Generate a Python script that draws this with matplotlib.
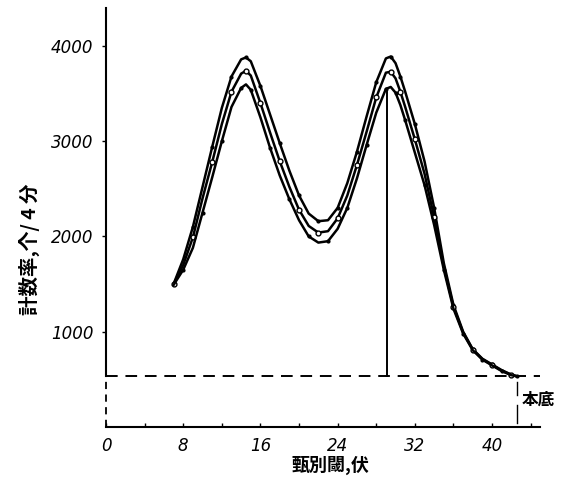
import matplotlib
matplotlib.use("Agg")
import matplotlib.pyplot as plt
from matplotlib.ticker import MultipleLocator

# discriminator threshold (V) and count rate (counts / 4 min), three runs
thresholds = [7, 8, 9, 10, 11, 12, 13, 14, 14.5, 15, 16, 17, 18, 19, 20, 21, 22, 23, 24, 25,
              26, 27, 28, 29, 29.5, 30, 30.5, 31, 32, 33, 34, 35, 36, 37, 38, 39, 40, 41, 42, 42.6]
rate_top = [1500, 1760, 2100, 2520, 2940, 3350, 3680, 3860, 3880, 3840, 3580, 3280, 2980, 2690,
            2430, 2240, 2160, 2170, 2300, 2560, 2890, 3260, 3620, 3870, 3890, 3820, 3680, 3520,
            3180, 2790, 2300, 1720, 1280, 1000, 815, 715, 655, 595, 548, 530]
rate_mid = [1500, 1700, 1990, 2400, 2780, 3180, 3520, 3710, 3740, 3690, 3400, 3090, 2790, 2520,
            2280, 2110, 2040, 2055, 2190, 2430, 2750, 3100, 3460, 3720, 3730, 3660, 3520, 3360,
            3020, 2660, 2200, 1680, 1260, 990, 810, 710, 650, 590, 545, 530]
rate_bot = [1490, 1650, 1880, 2250, 2620, 3000, 3360, 3560, 3597, 3540, 3250, 2930, 2640, 2390,
            2170, 2000, 1935, 1950, 2080, 2300, 2610, 2960, 3300, 3550, 3570, 3510, 3380, 3220,
            2880, 2540, 2120, 1650, 1240, 980, 805, 705, 645, 585, 542, 530]

background = 530      # 本底
plateau_x = 29.1      # vertical marker line
x_ticks = [0, 8, 16, 24, 32, 40]
y_ticks = [1000, 2000, 3000, 4000]

cjk = ['Noto Sans CJK JP', 'Noto Sans CJK SC', 'DejaVu Sans']

fig = plt.figure(figsize=(5.64, 4.98), dpi=100)
ax = fig.add_axes([0.188, 0.143, 0.77, 0.841])
ax.set_xlim(0, 45)
ax.set_ylim(0, 4400)

# the three curves
ax.plot(thresholds, rate_top, color='black', lw=1.8, marker='.', ms=4, markevery=2)
ax.plot(thresholds, rate_mid, color='black', lw=1.8, marker='o', ms=3.5, mfc='white',
        mew=1.0, markevery=2)
ax.plot(thresholds, rate_bot, color='black', lw=1.8, marker='.', ms=4,
        markevery=list(range(1, len(thresholds), 2)))

# background level and marker line
ax.plot([0, 45], [background, background], color='black', lw=1.4, ls=(0, (6, 4)), clip_on=False)
ax.plot([plateau_x, plateau_x], [background, 3520], color='black', lw=1.4)

# left axis: solid above background, dashed below
ax.spines['left'].set_visible(False)
ax.spines['right'].set_visible(False)
ax.spines['top'].set_visible(False)
ax.spines['bottom'].set_linewidth(1.5)
ax.plot([0, 0], [background, 4400], color='black', lw=1.5, clip_on=False)
ax.plot([0, 0], [0, background], color='black', lw=1.3, ls=(0, (4, 3)), clip_on=False)

# 本底 bracket
ax.plot([42.6, 42.6], [470, 330], color='black', lw=1.0, clip_on=False)
ax.plot([42.6, 42.6], [230, 40], color='black', lw=1.0, clip_on=False)
ax.text(43.1, 280, '本底', family=cjk, fontsize=12, fontweight='bold', va='center',
        ha='left', clip_on=False)

ax.set_xticks(x_ticks)
ax.set_yticks(y_ticks)
ax.xaxis.set_minor_locator(MultipleLocator(4))
ax.tick_params(axis='x', which='both', direction='in', length=3, width=1, pad=7)
ax.tick_params(axis='y', direction='out', length=3, width=1, pad=6)
for lab in ax.get_xticklabels() + ax.get_yticklabels():
    lab.set_fontstyle('italic')
    lab.set_fontsize(12)

fig.text(0.052, 0.5, '計数率,个/ 4 分', family=cjk, fontsize=14, fontweight='bold',
         rotation=90, ha='center', va='center')
fig.text(0.585, 0.066, '甄別閾,伏', family=cjk, fontsize=13, fontweight='bold',
         ha='center', va='center')

fig.savefig('out.png', dpi=100, facecolor='white')
